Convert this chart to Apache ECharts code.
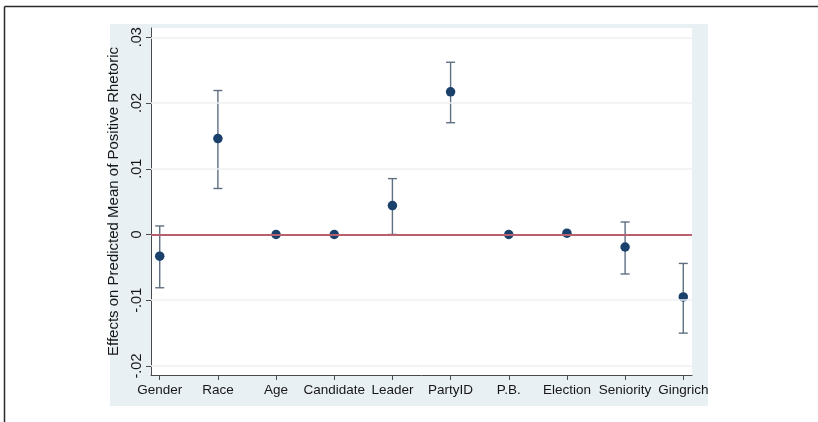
<!DOCTYPE html>
<html>
<head>
<meta charset="utf-8">
<script src="https://cdn.jsdelivr.net/npm/echarts@6/dist/echarts.min.js"></script>
<style>
  html, body { margin: 0; padding: 0; background: #ffffff; }
  #chart { width: 818px; height: 422px; }
</style>
</head>
<body>
<div id="chart"></div>
<script>
// Predictor names along the horizontal axis
const categories = ['Gender', 'Race', 'Age', 'Candidate', 'Leader', 'PartyID', 'P.B.', 'Election', 'Seniority', 'Gingrich'];
// Point estimates of the effect
const estimates = [-0.0033, 0.0146, 0.0000, 0.0000, 0.0044, 0.0217, 0.0000, 0.0002, -0.0019, -0.0095];
// Confidence interval bounds
const lowerCI = [-0.0081, 0.0070, 0.0000, 0.0000, 0.0000, 0.0170, 0.0000, 0.0002, -0.0060, -0.0150];
const upperCI = [0.0013, 0.0219, 0.0000, 0.0000, 0.0085, 0.0262, 0.0000, 0.0002, 0.0019, -0.0044];
// Vertical axis ticks and their printed labels
const yTicks = [-0.02, -0.01, 0, 0.01, 0.02, 0.03];
const yTickLabels = ['-.02', '-.01', '0', '.01', '.02', '.03'];
const yTitle = 'Effects on Predicted Mean of Positive Rhetoric';

const FONT = '"Liberation Sans", Arial, Helvetica, sans-serif';

const chart = echarts.init(document.getElementById('chart'), null, { renderer: 'canvas' });

const pointData = estimates.map((v, i) => [i, v]);
const ciData = lowerCI.map((lo, i) => [i, lo, upperCI[i]]);

function labelFor(list, values, v) {
  for (let i = 0; i < values.length; i++) {
    if (Math.abs(values[i] - v) < 1e-9) return list[i];
  }
  return '';
}

const option = {
  animation: false,
  backgroundColor: '#ffffff',
  graphic: [
    // outer frame (top and left rules)
    { type: 'line', shape: { x1: 4.5, y1: 6.5, x2: 818, y2: 6.5 }, style: { stroke: '#2a2a2a', lineWidth: 1.5 }, z: 0 },
    { type: 'line', shape: { x1: 4.5, y1: 6.5, x2: 4.5, y2: 422 }, style: { stroke: '#2a2a2a', lineWidth: 1.5 }, z: 0 },
    // graph region backdrop
    { type: 'rect', shape: { x: 110, y: 24, width: 598, height: 382 }, style: { fill: '#e9f0f4' }, z: -10, silent: true }
  ],
  grid: {
    left: 151, top: 28, right: 126, bottom: 47,
    show: true, backgroundColor: '#ffffff', borderWidth: 0
  },
  xAxis: {
    type: 'value',
    min: -0.15, max: 9.15,
    splitLine: { show: false },
    axisLine: { show: true, onZero: false, lineStyle: { color: '#4a4a4a', width: 1 } },
    axisTick: { show: true, length: 5, customValues: categories.map((c, i) => i), lineStyle: { color: '#4a4a4a' } },
    axisLabel: {
      customValues: categories.map((c, i) => i),
      formatter: v => categories[Math.round(v)] || '',
      color: '#161616', fontFamily: FONT, fontSize: 13.5, margin: 8
    }
  },
  yAxis: {
    type: 'value',
    min: -0.02137, max: 0.03141,
    name: yTitle,
    nameLocation: 'middle',
    nameGap: 30,
    nameRotate: 90,
    nameTextStyle: { color: '#161616', fontFamily: FONT, fontSize: 15 },
    splitLine: { show: false },
    axisLine: { show: true, onZero: false, lineStyle: { color: '#4a4a4a', width: 1 } },
    axisTick: { show: true, length: 5, customValues: yTicks, lineStyle: { color: '#4a4a4a' } },
    axisLabel: {
      customValues: yTicks,
      rotate: 90,
      formatter: v => labelFor(yTickLabels, yTicks, v),
      color: '#161616', fontFamily: FONT, fontSize: 14.5, margin: 7
    }
  },
  series: [
    {
      // faint horizontal grid lines plus the zero reference line
      type: 'line',
      data: [],
      silent: true,
      markLine: {
        silent: true,
        symbol: 'none',
        label: { show: false },
        data: yTicks.filter(t => t !== 0).map(t => ({ yAxis: t, lineStyle: { color: '#eef1f3', width: 1.5, type: 'solid' } }))
          .concat([{ yAxis: 0, lineStyle: { color: '#b9606f', width: 2, type: 'solid' } }])
      },
      z: 1
    },
    {
      // confidence interval caps
      type: 'custom',
      data: ciData,
      renderItem: function (params, api) {
        const x = api.value(0);
        const lo = api.coord([x, api.value(1)]);
        const hi = api.coord([x, api.value(2)]);
        const cap = 4.5;
        const style = { stroke: '#5f6f82', lineWidth: 1.4 };
        if (Math.abs(hi[1] - lo[1]) < 0.5) return { type: 'group', children: [] };
        return {
          type: 'group',
          children: [
            { type: 'line', shape: { x1: lo[0], y1: lo[1], x2: hi[0], y2: hi[1] }, style: style },
            { type: 'line', shape: { x1: lo[0] - cap, y1: lo[1], x2: lo[0] + cap, y2: lo[1] }, style: style },
            { type: 'line', shape: { x1: hi[0] - cap, y1: hi[1], x2: hi[0] + cap, y2: hi[1] }, style: style }
          ]
        };
      },
      z: 2
    },
    {
      // point estimates
      type: 'scatter',
      data: pointData,
      symbol: 'circle',
      symbolSize: 9.5,
      itemStyle: { color: '#1a416b', opacity: 1 },
      z: 3
    }
  ]
};

chart.setOption(option);
</script>
</body>
</html>
